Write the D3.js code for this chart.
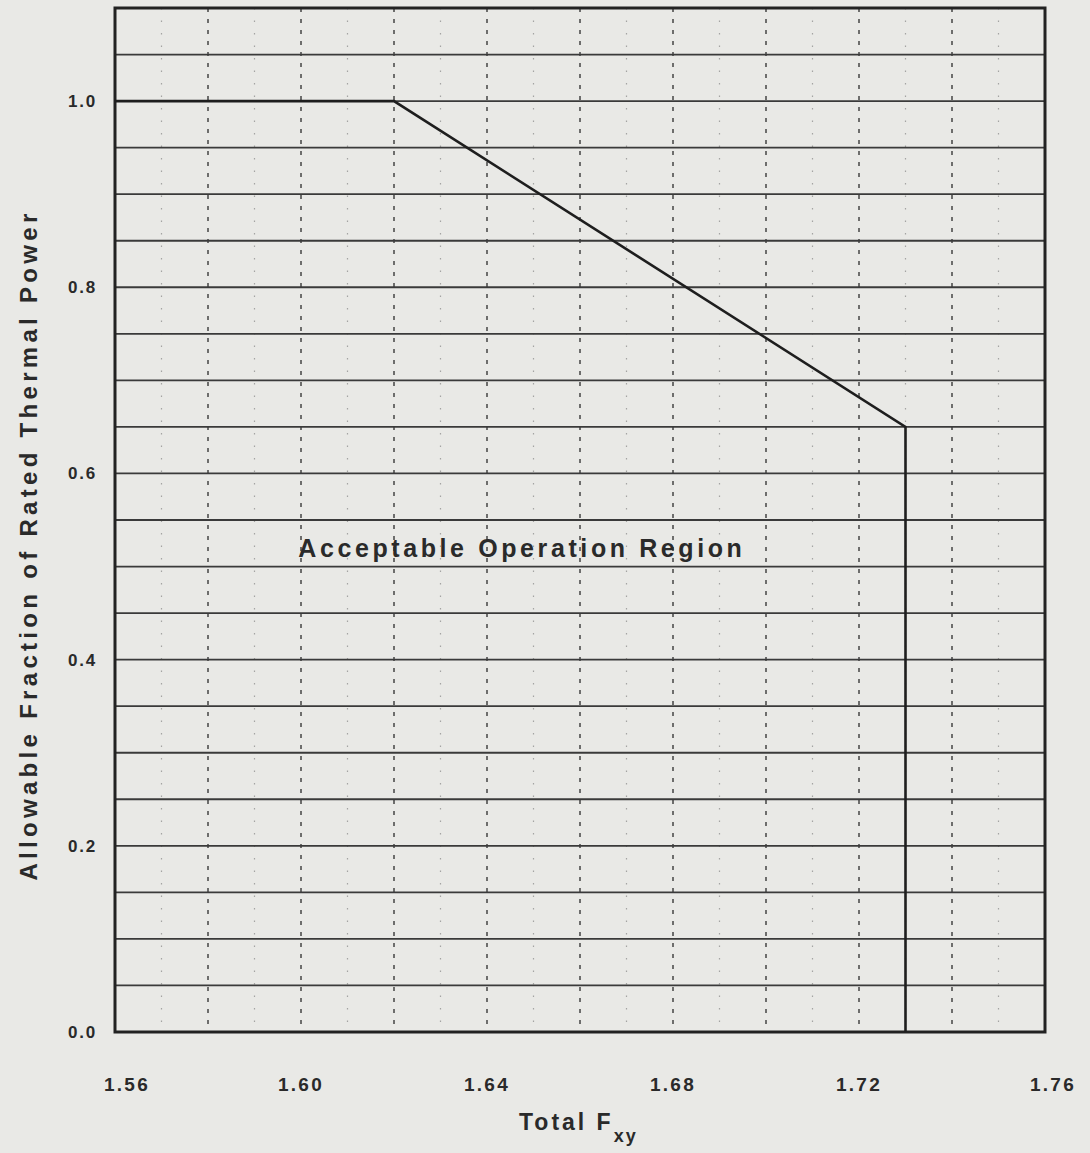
<!DOCTYPE html>
<html><head><meta charset="utf-8">
<script src="https://cdn.jsdelivr.net/npm/d3@7"></script>
<style>
html,body{margin:0;padding:0;background:#e9e9e6;}
svg{display:block;}
text{font-family:"Liberation Sans",Arial,sans-serif;fill:#2a2a2a;font-weight:bold;}
</style></head>
<body>
<script>
// Data
const limitX = [1.56, 1.62, 1.73, 1.73];
const limitY = [1.0, 1.0, 0.65, 0.0];
const xTicks = [1.56, 1.60, 1.64, 1.68, 1.72, 1.76];
const yTicks = [0.0, 0.2, 0.4, 0.6, 0.8, 1.0];
const xLabel = "Total F";
const xSub = "xy";
const yLabel = "Allowable Fraction of Rated Thermal Power";
const regionLabel = "Acceptable Operation Region";

const W = 1090, H = 1153;
const m = {left:115, right:45, top:8, bottom:121};
const svg = d3.select("body").append("svg").attr("width", W).attr("height", H);

const x = d3.scaleLinear().domain([1.56, 1.76]).range([m.left, W - m.right]);
const y = d3.scaleLinear().domain([0, 1.1]).range([H - m.bottom, m.top]);

const g = svg.append("g");

// faint dotted verticals at odd hundredths
const fine = d3.range(1, 20).map(i => 1.56 + i * 0.01).filter((v, i) => i % 2 === 0);
g.selectAll("line.fine").data(fine).join("line")
  .attr("x1", d => x(d)).attr("x2", d => x(d))
  .attr("y1", y(1.1)).attr("y2", y(0))
  .attr("stroke", "#777").attr("stroke-width", 1.2)
  .attr("stroke-dasharray", "1.5,11").attr("opacity", 0.6);

// dashed verticals every 0.02
const major = d3.range(1, 10).map(i => 1.56 + i * 0.02);
g.selectAll("line.vmaj").data(major).join("line")
  .attr("x1", d => x(d)).attr("x2", d => x(d))
  .attr("y1", y(1.1)).attr("y2", y(0))
  .attr("stroke", "#444").attr("stroke-width", 1.5)
  .attr("stroke-dasharray", "4,7");

// horizontal solid lines every 0.05
const hLines = d3.range(1, 22).map(i => i * 0.05);
g.selectAll("line.h").data(hLines).join("line")
  .attr("x1", x(1.56)).attr("x2", x(1.76))
  .attr("y1", d => y(d)).attr("y2", d => y(d))
  .attr("stroke", "#3a3a3a").attr("stroke-width", 1.8);

// frame
g.append("rect")
  .attr("x", x(1.56)).attr("y", y(1.1))
  .attr("width", x(1.76) - x(1.56)).attr("height", y(0) - y(1.1))
  .attr("fill", "none").attr("stroke", "#222").attr("stroke-width", 3);

// limit line
const pts = limitX.map((v, i) => [v, limitY[i]]);
g.append("path").datum(pts)
  .attr("d", d3.line().x(d => x(d[0])).y(d => y(d[1])))
  .attr("fill", "none").attr("stroke", "#1e1e1e").attr("stroke-width", 2.6);

// tick labels
svg.selectAll("text.xt").data(xTicks).join("text")
  .attr("x", (d, i) => x(d) + (i === 0 ? 12 : (i === xTicks.length - 1 ? 8 : 0)))
  .attr("y", 1091)
  .attr("text-anchor", "middle").attr("font-size", 19).attr("letter-spacing", 2.3)
  .text(d => d.toFixed(2));

svg.selectAll("text.yt").data(yTicks).join("text")
  .attr("x", 97).attr("y", d => y(d) + 6)
  .attr("text-anchor", "end").attr("font-size", 17).attr("letter-spacing", 1.8)
  .text(d => d.toFixed(1));

// axis titles
const xt = svg.append("text").attr("x", 519).attr("y", 1130)
  .attr("font-size", 23).attr("letter-spacing", 3);
xt.append("tspan").text(xLabel);
xt.append("tspan").attr("dy", 12).attr("font-size", 18).attr("letter-spacing", 2).text(xSub);

svg.append("text")
  .attr("transform", "translate(37," + 545 + ") rotate(-90)")
  .attr("text-anchor", "middle").attr("font-size", 24).attr("letter-spacing", 4.3)
  .text(yLabel);

// region label
svg.append("text").attr("x", x(1.6475)).attr("y", y(0.52) + 9)
  .attr("text-anchor", "middle").attr("font-size", 25).attr("letter-spacing", 3.6)
  .text(regionLabel);
</script>
</body></html>
